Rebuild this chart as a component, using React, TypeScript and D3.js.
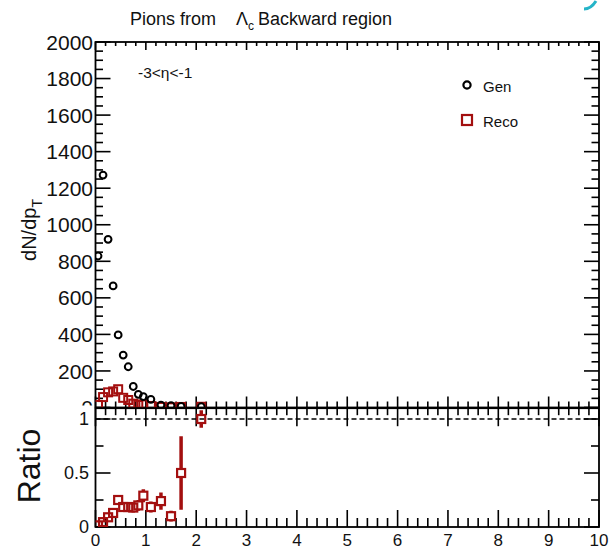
import React from "react";
import * as d3 from "d3";

// ---- data ----
const binCenters = [0.05, 0.15, 0.25, 0.35, 0.45, 0.55, 0.65, 0.75, 0.85, 0.95, 1.1, 1.3, 1.5, 1.7, 2.1];
const genValues = [829, 1272, 920, 665, 397, 287, 223, 115, 72, 60, 45, 13, 10, 6, 4];
const recoValues = [14, 57, 83, 88, 100, 53, 41, 21, 14, 17, 8, 3, 1, 3, 4];
const recoErrors = [6, 12, 14, 15, 16, 11, 10, 7, 6, 7, 4, 3, 2, 3, 4];
const ratioValues = [0.015, 0.045, 0.09, 0.13, 0.25, 0.185, 0.185, 0.18, 0.2, 0.29, 0.185, 0.24, 0.1, 0.5, 1.0];
const ratioErrors = [0.01, 0.015, 0.02, 0.025, 0.035, 0.03, 0.035, 0.045, 0.05, 0.06, 0.05, 0.08, 0.05, 0.34, 0.08];

const yTopTickLabels = ["200", "400", "600", "800", "1000", "1200", "1400", "1600", "1800", "2000"];
const xTickLabels = ["0", "1", "2", "3", "4", "5", "6", "7", "8", "9", "10"];
const ratioTickLabels = ["0", "0.5", "1"];
const legendLabels = ["Gen", "Reco"];

const FONT = "'Liberation Sans', Arial, Helvetica, sans-serif";
const RED = "#a30f0f";

export default function App() {
  const W = 610, H = 550;
  const L = 95.5, R = 599;
  const x = d3.scaleLinear().domain([0, 10]).range([L, R]);
  const yT = d3.scaleLinear().domain([0, 2000]).range([407.5, 42]);
  const yR = d3.scaleLinear().domain([0, 1.1]).range([527, 408.2]);

  const xMinor = d3.range(0, 10.0001, 0.2);
  const isInt = (v: number) => Math.abs(v - Math.round(v)) < 1e-6;
  const yTopTicks = d3.range(0, 2000.1, 50);
  const ratioTicks = [0, 0.25, 0.5, 0.75, 1.0];

  const tl = { stroke: "#000", strokeWidth: 1.6 };
  const half = 4;

  return (
    <svg width={W} height={H} style={{ position: "absolute", left: 0, top: 0, background: "#fff" }} fontFamily={FONT}>
      <defs>
        <clipPath id="clipTop"><rect x={L} y={yT(2000)} width={R - L} height={yT(0) - yT(2000)} /></clipPath>
        <clipPath id="clipBot"><rect x={L} y={yR(1.1)} width={R - L} height={yR(0) - yR(1.1)} /></clipPath>
        <clipPath id="clipZero"><rect x={0} y={0} width={W} height={405.5} /></clipPath>
      </defs>
      <rect x={0} y={0} width={W} height={H} fill="#fff" />

      {/* small teal artifact top right */}
      <path d="M584,9 Q591,9 596,1" stroke="#25b4c8" strokeWidth={3} fill="none" />

      {/* Title */}
      <text x={130} y={25} fontSize={18} fill="#111">
        Pions from
        <tspan dx={20}>Λ</tspan>
        <tspan dy={5} fontSize={12}>c</tspan>
        <tspan dy={-5} dx={4}>Backward region</tspan>
      </text>

      {/* ---------- TOP PANEL ---------- */}
      <rect x={L} y={yT(2000)} width={R - L} height={yT(0) - yT(2000)} fill="none" stroke="#000" strokeWidth={1.8} />
      {yTopTicks.map((v, i) => {
        const len = v % 200 === 0 ? 15 : 7.5;
        return (
          <g key={"yt" + i}>
            <line x1={L} x2={L + len} y1={yT(v)} y2={yT(v)} {...tl} />
            <line x1={R} x2={R - len} y1={yT(v)} y2={yT(v)} {...tl} />
          </g>
        );
      })}
      {xMinor.map((v, i) => {
        const maj = isInt(v);
        return (
          <g key={"xt" + i}>
            <line x1={x(v)} x2={x(v)} y1={yT(2000)} y2={yT(2000) + (maj ? 8 : 4)} {...tl} />
            <line x1={x(v)} x2={x(v)} y1={yT(0)} y2={yT(0) - (maj ? 11 : 6)} {...tl} />
          </g>
        );
      })}
      {yTopTickLabels.map((lab, i) => (
        <text key={"ytl" + i} x={93} y={yT(+lab)} dy="0.36em" textAnchor="end" fontSize={21} fill="#111">{lab}</text>
      ))}
      <g clipPath="url(#clipZero)">
        <text x={93} y={yT(0)} dy="0.36em" textAnchor="end" fontSize={21} fill="#111">0</text>
      </g>
      <text transform={`translate(36,${230}) rotate(-90)`} textAnchor="middle" fontSize={20} fill="#111">
        dN/dp<tspan dy={6} fontSize={14}>T</tspan>
      </text>

      <text x={138} y={78} fontSize={15.5} fill="#111">-3&lt;η&lt;-1</text>

      {/* legend */}
      <circle cx={467} cy={85} r={3.6} fill="none" stroke="#000" strokeWidth={2.2} />
      <text x={483} y={92} fontSize={15} fill="#111">{legendLabels[0]}</text>
      <rect x={467 - 5} y={120 - 5} width={10} height={10} fill="none" stroke={RED} strokeWidth={2.2} />
      <text x={483} y={127} fontSize={15} fill="#111">{legendLabels[1]}</text>

      <g clipPath="url(#clipTop)">
        {binCenters.map((c, i) => {
          const cy = yT(recoValues[i]);
          const lo = yT(recoValues[i] - recoErrors[i]);
          const hi = yT(recoValues[i] + recoErrors[i]);
          return (
            <g key={"reco" + i}>
              {hi < cy - half && <line x1={x(c)} x2={x(c)} y1={cy - half} y2={hi} stroke={RED} strokeWidth={2.5} />}
              {lo > cy + half && <line x1={x(c)} x2={x(c)} y1={cy + half} y2={lo} stroke={RED} strokeWidth={2.5} />}
              <rect x={x(c) - half} y={cy - half} width={half * 2} height={half * 2} fill="none" stroke={RED} strokeWidth={2} />
            </g>
          );
        })}
        {binCenters.map((c, i) => (
          <circle key={"gen" + i} cx={x(c)} cy={yT(genValues[i])} r={3.4} fill="none" stroke="#000" strokeWidth={2} />
        ))}
      </g>

      {/* ---------- RATIO PANEL ---------- */}
      <rect x={L} y={yR(1.1)} width={R - L} height={yR(0) - yR(1.1)} fill="none" stroke="#000" strokeWidth={1.8} />
      <line x1={L} x2={R} y1={yR(1)} y2={yR(1)} stroke="#000" strokeWidth={1.4} strokeDasharray="5,3" />
      {xMinor.map((v, i) => {
        const maj = isInt(v);
        return (
          <g key={"xb" + i}>
            <line x1={x(v)} x2={x(v)} y1={yR(1.1)} y2={yR(1.1) + (maj ? 18 : 7)} {...tl} />
            <line x1={x(v)} x2={x(v)} y1={yR(0)} y2={yR(0) - (maj ? 17 : 9)} {...tl} />
          </g>
        );
      })}
      {ratioTicks.map((v, i) => {
        const len = Math.abs(v * 2 - Math.round(v * 2)) < 1e-6 ? 15 : 8;
        return (
          <g key={"rt" + i}>
            <line x1={L} x2={L + len} y1={yR(v)} y2={yR(v)} {...tl} />
            <line x1={R} x2={R - len} y1={yR(v)} y2={yR(v)} {...tl} />
          </g>
        );
      })}
      {ratioTickLabels.map((lab, i) => (
        <text key={"rtl" + i} x={89} y={yR(+lab)} dy="0.36em" textAnchor="end" fontSize={18} fill="#111">{lab}</text>
      ))}
      {xTickLabels.map((lab, i) => (
        <text key={"xtl" + i} x={x(+lab)} y={546} textAnchor="middle" fontSize={17} fill="#111">{lab}</text>
      ))}
      <text transform={`translate(40,466) rotate(-90)`} textAnchor="middle" fontSize={32} fill="#111">Ratio</text>

      <g clipPath="url(#clipBot)">
        {binCenters.map((c, i) => {
          const cy = yR(ratioValues[i]);
          const lo = yR(ratioValues[i] - ratioErrors[i]);
          const hi = yR(ratioValues[i] + ratioErrors[i]);
          return (
            <g key={"rat" + i}>
              {hi < cy - half && <line x1={x(c)} x2={x(c)} y1={cy - half} y2={hi} stroke={RED} strokeWidth={3.5} />}
              {lo > cy + half && <line x1={x(c)} x2={x(c)} y1={cy + half} y2={lo} stroke={RED} strokeWidth={3.5} />}
              <rect x={x(c) - half} y={cy - half} width={half * 2} height={half * 2} fill="none" stroke={RED} strokeWidth={2.2} />
            </g>
          );
        })}
      </g>
    </svg>
  );
}
